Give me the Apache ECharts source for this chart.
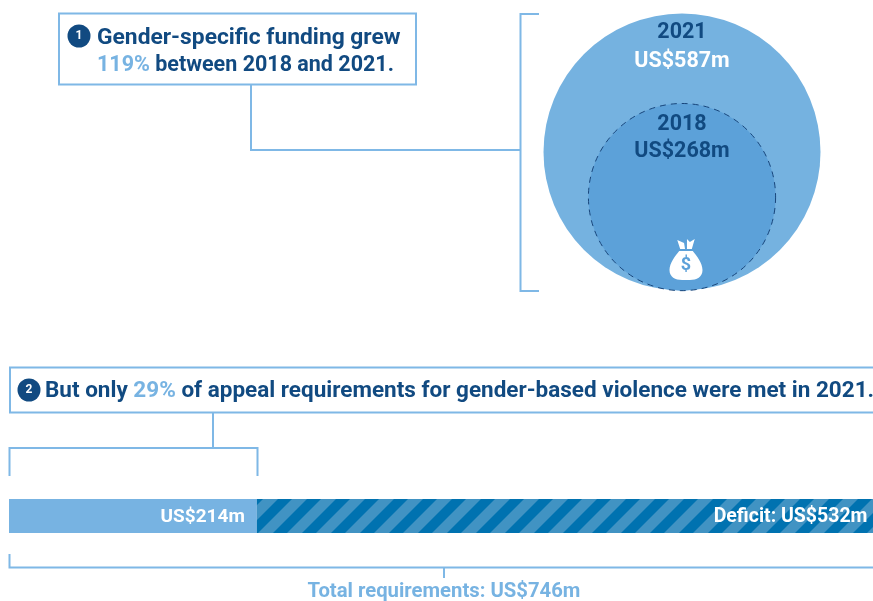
<!DOCTYPE html>
<html><head><meta charset="utf-8">
<style>html,body{margin:0;padding:0;background:#fff}#c{width:873px;height:601px}</style>
<script src="https://cdn.jsdelivr.net/npm/echarts@6/dist/echarts.min.js"></script>
</head><body><div id="c"></div>
<script>
var years=['2018','2021'];
var funding=[268,587];
var barLabels=['Met','Deficit'];
var barValues=[214,532];
var totalReq=746;
var NAVY='#114a81',LIGHT='#77b3e2',LINE='#7fb8e6',FONT='Roboto, Inter, sans-serif';
var tile=document.createElement('canvas');tile.width=29;tile.height=29;
(function(){var g=tile.getContext('2d');g.fillStyle='#4193c3';g.fillRect(0,0,29,29);
g.fillStyle='#0072b0';
[-35,-6,23].forEach(function(o){g.beginPath();g.moveTo(o,29);g.lineTo(o+14,29);g.lineTo(o+43,0);g.lineTo(o+29,0);g.closePath();g.fill();});})();
var chart=echarts.init(document.getElementById('c'),null,{renderer:'canvas'});
function ln(pts){return {type:'polyline',silent:true,shape:{points:pts},style:{stroke:LINE,lineWidth:2,fill:null}};}
function rect(x,y,w,h){return {type:'rect',silent:true,shape:{x:x,y:y,width:w,height:h},style:{fill:'#fff',stroke:LINE,lineWidth:2}};}
function badge(x,y,r,t){return [{type:'circle',silent:true,shape:{cx:x,cy:y,r:r},style:{fill:NAVY}},
 {type:'text',silent:true,x:x,y:y,style:{text:t,fill:'#fff',font:'bold 12px '+FONT,align:'center',verticalAlign:'middle'}}];}
function rtext(x,y,parts,size,align){return {type:'text',silent:true,x:x,y:y,z:20,style:{
  text:parts.map(function(p){return '{'+p[1]+'|'+p[0]+'}';}).join(''),align:align||'left',verticalAlign:'middle',
  rich:{n:{fill:NAVY,font:'700 '+size+'px '+FONT},l:{fill:LIGHT,font:'700 '+size+'px '+FONT},w:{fill:'#fff',font:'700 '+size+'px '+FONT}}}};}
var pxPerUnit=277/(2*Math.sqrt(funding[1]));
var pct=Math.round((funding[1]-funding[0])/funding[0]*100);
var share=Math.round(barValues[0]/totalReq*100);
var bagPath='path://M8 1 L15 4 L16 10 L11 10 L8 1 Z M18 0 L21 3 L26 0 L23 10 L18 10 Z M10 12 L24 12 C28 17 34 24 34 31 C34 38 28 41 21 41 L13 41 C6 41 0 38 0 31 C0 24 6 17 10 12 Z';
var elements=[
 rect(59,13.5,357,71),
 ln([[251,85],[251,150],[520,150]]),
 ln([[539,14],[520.5,14],[520.5,291],[539,291]]),
 rect(10,367.5,880,45),
 ln([[213,412],[213,448]]),
 ln([[9.5,476],[9.5,448],[257.5,448],[257.5,476]]),
 ln([[9.5,554],[9.5,567.5],[873,567.5]]),
 ln([[444,567],[444,578]]),
 rtext(97,38,[['Gender-specific funding grew','n']],22.8),
 rtext(97,66,[[pct+'%','l'],[' between '+years[0]+' and '+years[1]+'.','n']],21.5),
 rtext(45,391,[['But only ','n'],[share+'%','l'],[' of appeal requirements for gender-based violence were met in '+years[1]+'.','n']],22.5),
 rtext(444,592,[['Total requirements: US$'+totalReq+'m','l']],20.3,'center')
].concat(badge(79,36,11.5,'1')).concat(badge(29,390,11.5,'2'));
function bubble(i,dashed){
 var r=Math.sqrt(funding[i]);
 return {type:'scatter',xAxisIndex:1,yAxisIndex:1,silent:true,z:dashed?3:2,animation:false,
  symbol:'circle',symbolSize:2*r*pxPerUnit,data:[[0,r]],
  itemStyle:dashed?{color:'#5ca1d9',opacity:1,borderColor:'#17457b',borderWidth:1,borderType:[6,5]}:{color:'#75b2e0',opacity:1}};
}
chart.setOption({
 animation:false,
 textStyle:{fontFamily:FONT},
 grid:[{left:9,top:499,width:870,height:34},{left:543.5,top:13,width:277,height:278}],
 xAxis:[{type:'value',min:0,max:totalReq,show:false},{type:'value',gridIndex:1,min:-1,max:1,show:false}],
 yAxis:[{type:'category',data:['Requirements'],show:false},{type:'value',gridIndex:1,min:0,max:2*Math.sqrt(funding[1]),show:false}],
 series:[
  {type:'bar',name:barLabels[0],stack:'t',barWidth:34,silent:true,data:[barValues[0]],
   itemStyle:{color:'#77b3e2'},
   label:{show:true,position:'insideRight',distance:12,offset:[0,1],formatter:'US$'+barValues[0]+'m',color:'#fff',fontFamily:FONT,fontWeight:700,fontSize:19}},
  {type:'bar',name:barLabels[1],stack:'t',barWidth:34,silent:true,data:[barValues[1]],
   itemStyle:{color:{image:tile,repeat:'repeat'}},
   label:{show:true,position:'insideRight',distance:5.5,offset:[0,1],formatter:'Deficit: US$'+barValues[1]+'m',color:'#fff',fontFamily:FONT,fontWeight:700,fontSize:19.5}},
  bubble(1,false),bubble(0,true),
  {type:'scatter',xAxisIndex:1,yAxisIndex:1,silent:true,z:4,symbol:bagPath,symbolSize:[33,41],symbolOffset:[4,-31.5],
   data:[[0,0]],itemStyle:{color:'#fff',opacity:1}}
 ],
 graphic:{elements:elements.concat([
  rtext(682,33,[[years[1],'n']],21.5,'center'),
  rtext(682,61.5,[['US$'+funding[1]+'m','w']],21.5,'center'),
  rtext(682,124.5,[[years[0],'n']],21.5,'center'),
  rtext(682,152,[['US$'+funding[0]+'m','n']],21.5,'center'),
  {type:'text',silent:true,z:20,x:686,y:265,style:{text:'$',fill:'#5ca1d9',font:'700 18px '+FONT,align:'center',verticalAlign:'middle'}}
 ])}
});
</script></body></html>
